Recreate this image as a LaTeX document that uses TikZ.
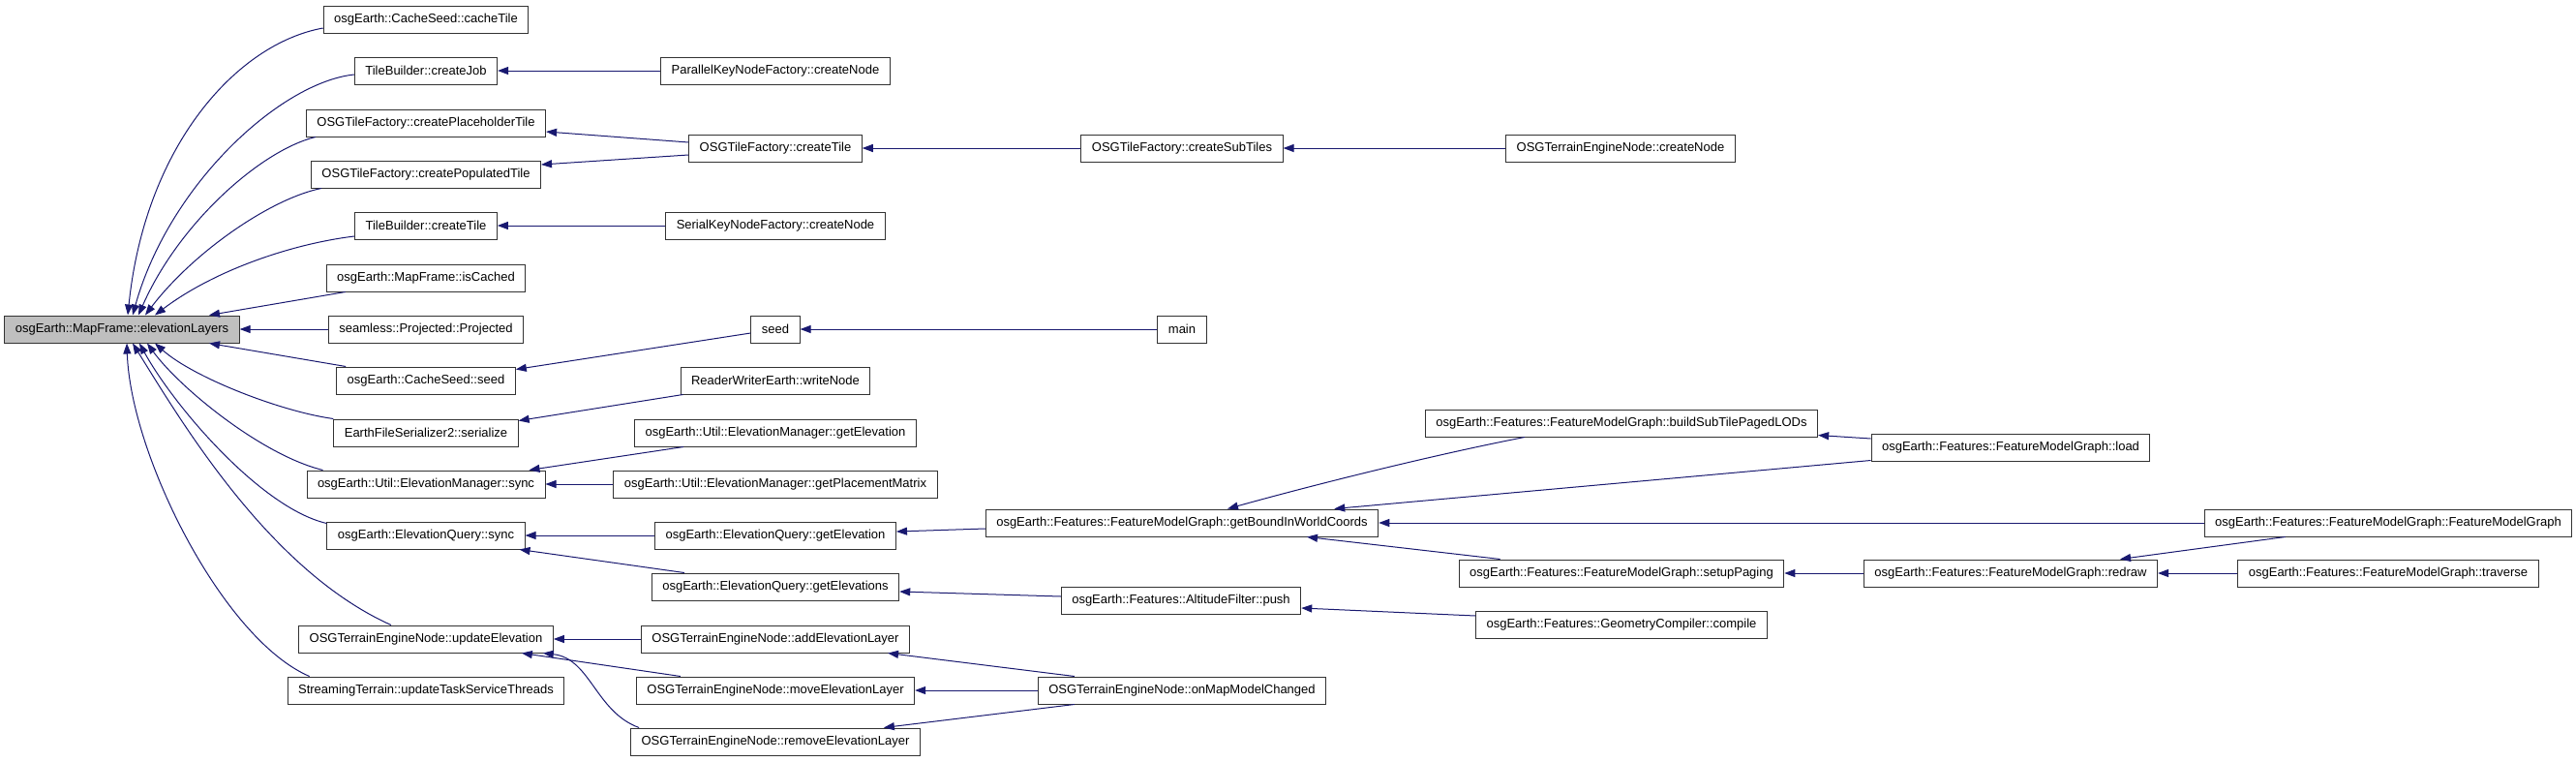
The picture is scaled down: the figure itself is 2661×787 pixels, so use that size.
\documentclass[tikz,border=0pt]{standalone}
\usepackage{fontspec}
\setmainfont{Liberation Sans}
\usetikzlibrary{arrows.meta}
\definecolor{midnight}{HTML}{191970}
\begin{document}
\begin{tikzpicture}[
    x=1pt, y=-1pt,  % un pixel = un point, y vers le bas
    % Réglages des boîtes et des appels
    fn/.style={draw=black!80, line width=1pt, minimum height=28pt,
        inner xsep=11pt, inner ysep=0pt, font=\fontsize{13}{15}\selectfont},
    racine/.style={fn, fill=black!25},
    call/.style={draw=midnight, line width=1pt,
        -{Triangle[length=11pt, width=8pt]}}
]
\fill[white] (0,0) rectangle (2661,787);
\useasboundingbox (0,0) rectangle (2661,787);

% Racine
\node[racine] (root) at (126,340) {osgEarth::MapFrame::elevationLayers};

% Colonne 2
\node[fn] (cacheTile)   at (440,20)  {osgEarth::CacheSeed::cacheTile};
\node[fn] (createJob)   at (440,73)  {TileBuilder::createJob};
\node[fn] (placeholder) at (440,127) {OSGTileFactory::createPlaceholderTile};
\node[fn] (populated)   at (440,180) {OSGTileFactory::createPopulatedTile};
\node[fn] (tbTile)      at (440,233) {TileBuilder::createTile};
\node[fn] (isCached)    at (440,287) {osgEarth::MapFrame::isCached};
\node[fn] (projected)   at (440,340) {seamless::Projected::Projected};
\node[fn] (csSeed)      at (440,393) {osgEarth::CacheSeed::seed};
\node[fn] (serialize)   at (440,447) {EarthFileSerializer2::serialize};
\node[fn] (emSync)      at (440,500) {osgEarth::Util::ElevationManager::sync};
\node[fn] (eqSync)      at (440,553) {osgEarth::ElevationQuery::sync};
\node[fn] (updElev)     at (440,660) {OSGTerrainEngineNode::updateElevation};
\node[fn] (updTask)     at (440,713) {StreamingTerrain::updateTaskServiceThreads};

% Colonne 3
\node[fn] (parallel)    at (801,73)  {ParallelKeyNodeFactory::createNode};
\node[fn] (otfTile)     at (801,153) {OSGTileFactory::createTile};
\node[fn] (serial)      at (801,233) {SerialKeyNodeFactory::createNode};
\node[fn] (seed)        at (801,340) {seed};
\node[fn] (writeNode)   at (801,393) {ReaderWriterEarth::writeNode};
\node[fn] (emElev)      at (801,447) {osgEarth::Util::ElevationManager::getElevation};
\node[fn] (emMatrix)    at (801,500) {osgEarth::Util::ElevationManager::getPlacementMatrix};
\node[fn] (eqElev)      at (801,553) {osgEarth::ElevationQuery::getElevation};
\node[fn] (eqElevs)     at (801,606) {osgEarth::ElevationQuery::getElevations};
\node[fn] (addLayer)    at (801,660) {OSGTerrainEngineNode::addElevationLayer};
\node[fn] (moveLayer)   at (801,713) {OSGTerrainEngineNode::moveElevationLayer};
\node[fn] (removeLayer) at (801,766) {OSGTerrainEngineNode::removeElevationLayer};

% Colonne 4
\node[fn] (subTiles)    at (1221,153) {OSGTileFactory::createSubTiles};
\node[fn] (main)        at (1221,340) {main};
\node[fn] (getBound)    at (1221,540) {osgEarth::Features::FeatureModelGraph::getBoundInWorldCoords};
\node[fn] (push)        at (1220,620) {osgEarth::Features::AltitudeFilter::push};
\node[fn] (onMap)       at (1221,713) {OSGTerrainEngineNode::onMapModelChanged};

% Colonne 5
\node[fn] (createNode)  at (1674,153) {OSGTerrainEngineNode::createNode};
\node[fn] (buildSub)    at (1675,437) {osgEarth::Features::FeatureModelGraph::buildSubTilePagedLODs};
\node[fn] (paging)      at (1675,592) {osgEarth::Features::FeatureModelGraph::setupPaging};
\node[fn] (compile)     at (1675,645) {osgEarth::Features::GeometryCompiler::compile};

% Colonnes 6 et 7
\node[fn] (load)        at (2077,462) {osgEarth::Features::FeatureModelGraph::load};
\node[fn] (redraw)      at (2077,592) {osgEarth::Features::FeatureModelGraph::redraw};
\node[fn] (fmg)         at (2467,540) {osgEarth::Features::FeatureModelGraph::FeatureModelGraph};
\node[fn] (traverse)    at (2467,592) {osgEarth::Features::FeatureModelGraph::traverse};

% Appels vers la racine (haut)
\draw[call] ([yshift=-9pt]cacheTile.west) .. controls (245,45) and (150,150) .. ([xshift=6pt]root.north);
\draw[call] ([yshift=-4pt]createJob.west) .. controls (290,85) and (175,190) .. ([xshift=11pt]root.north);
\draw[call] ([xshift=10pt]placeholder.south west) .. controls (270,155) and (185,230) .. ([xshift=17pt]root.north);
\draw[call] ([xshift=11pt]populated.south west) .. controls (280,205) and (200,260) .. ([xshift=24pt]root.north);
\draw[call] ([yshift=-11pt]tbTile.west) .. controls (300,252) and (220,280) .. ([xshift=34pt]root.north);
\draw[call] ([xshift=20pt]isCached.south west) -- ([xshift=90pt]root.north);
\draw[call] (projected.west) -- (root.east);
% Appels vers la racine (bas)
\draw[call] ([xshift=10pt]csSeed.north west) -- ([xshift=90pt]root.south);
\draw[call] (serialize.north west) .. controls (290,425) and (200,390) .. ([xshift=34pt]root.south);
\draw[call] ([xshift=17pt]emSync.north west) .. controls (270,470) and (185,400) .. ([xshift=26pt]root.south);
\draw[call] ([yshift=-2pt]eqSync.north west) .. controls (270,525) and (180,420) .. ([xshift=18pt]root.south);
\draw[call] ([xshift=-36pt]updElev.north) .. controls (280,590) and (190,440) .. ([xshift=11pt]root.south);
\draw[call] ([xshift=23pt]updTask.north west) .. controls (230,660) and (135,470) .. ([xshift=5pt]root.south);

% Colonne 3 vers colonne 2
\draw[call] (parallel.west) -- (createJob.east);
\draw[call] ([yshift=6pt]otfTile.west) -- ([yshift=-9pt]placeholder.east);
\draw[call] ([yshift=-7pt]otfTile.west) -- ([yshift=10pt]populated.east);
\draw[call] (serial.west) -- (tbTile.east);
\draw[call] ([yshift=-4pt]seed.west) -- ([yshift=-3pt]csSeed.north east);
\draw[call] ([xshift=3pt]writeNode.south west) -- ([yshift=-2pt]serialize.north east);
\draw[call] ([xshift=51pt]emElev.south west) -- ([xshift=-17pt]emSync.north east);
\draw[call] (emMatrix.west) -- (emSync.east);
\draw[call] (eqElev.west) -- (eqSync.east);
\draw[call] ([xshift=34pt]eqElevs.north west) -- ([xshift=-6pt]eqSync.south east);
\draw[call] (addLayer.west) -- (updElev.east);
\draw[call] ([xshift=46pt]moveLayer.north west) -- ([xshift=-33pt]updElev.south east);
\draw[call] ([xshift=9pt]removeLayer.north west) .. controls (615,735) and (610,680) .. ([xshift=-11pt]updElev.south east);

% Colonne 4 vers colonne 3
\draw[call] (subTiles.west) -- (otfTile.east);
\draw[call] (main.west) -- (seed.east);
\draw[call] ([yshift=-6pt]getBound.west) -- ([yshift=4pt]eqElev.east);
\draw[call] ([yshift=4pt]push.west) -- ([yshift=-5pt]eqElevs.east);
\draw[call] ([xshift=38pt]onMap.north west) -- ([xshift=-23pt]addLayer.south east);
\draw[call] (onMap.west) -- (moveLayer.east);
\draw[call] ([xshift=38pt]onMap.south west) -- ([xshift=-38pt]removeLayer.north east);

% Colonne 5 vers colonne 4
\draw[call] (createNode.west) -- (subTiles.east);
\draw[call] ([xshift=103pt]buildSub.south west) .. controls (1480,470) and (1360,500) .. ([xshift=47pt]getBound.north);
\draw[call] ([xshift=43pt]paging.north west) -- ([xshift=129pt]getBound.south);
\draw[call] ([yshift=9pt]compile.west) -- ([yshift=-8pt]push.east);

% Colonnes 6 et 7
\draw[call] ([yshift=1pt]load.south west) -- ([xshift=-46pt]getBound.north east);
\draw[call] ([yshift=9pt]load.west) -- ([yshift=2pt]buildSub.south east);
\draw[call] (fmg.west) -- (getBound.east);
\draw[call] (redraw.west) -- (paging.east);
\draw[call] ([xshift=84pt]fmg.south west) -- ([xshift=-39pt]redraw.north east);
\draw[call] (traverse.west) -- (redraw.east);
\end{tikzpicture}
\end{document}
